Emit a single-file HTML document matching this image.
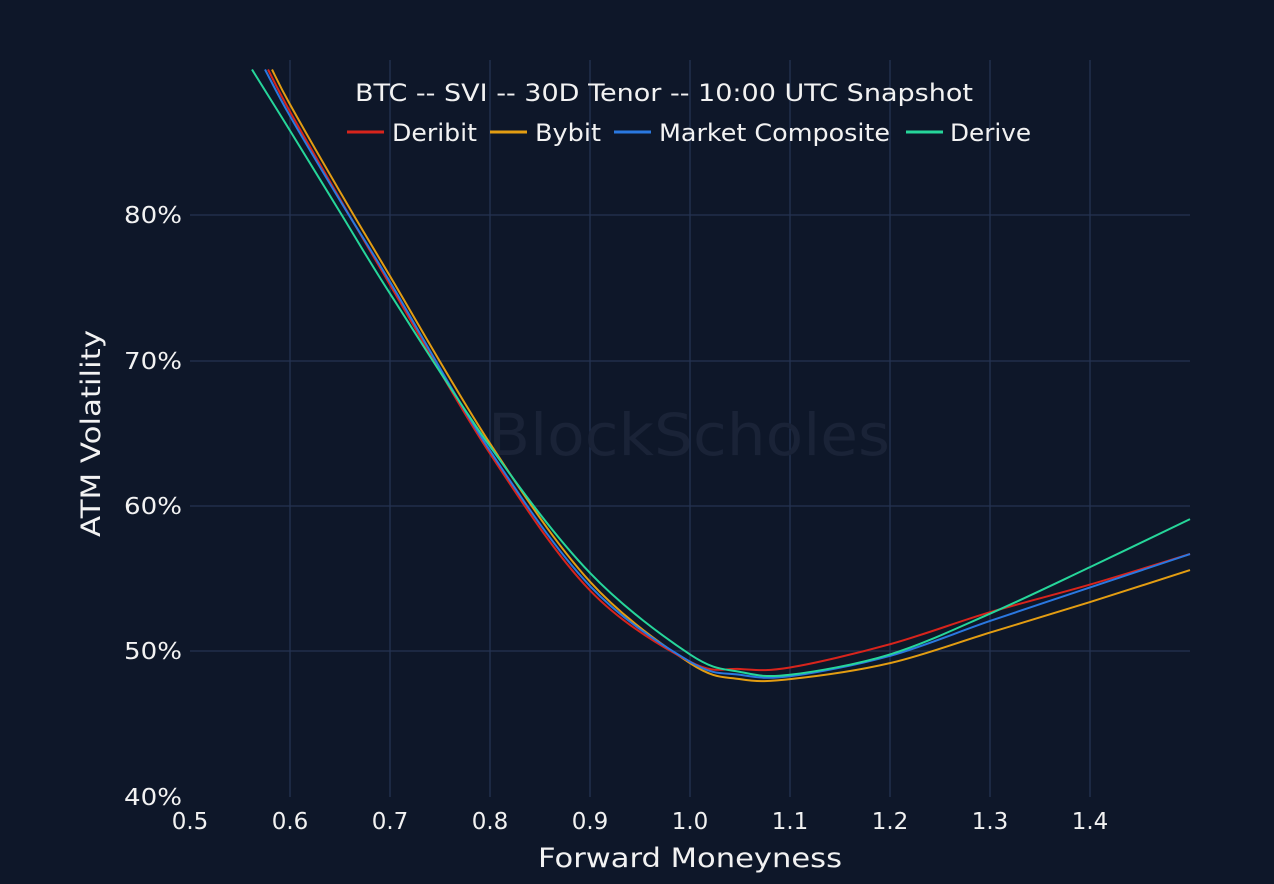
<!DOCTYPE html>
<html><head><meta charset="utf-8"><style>
html,body{margin:0;padding:0;background:#0e1729;}
svg{display:block}
text{font-family:"DejaVu Sans","Liberation Sans",sans-serif;fill:#f2f2f2}
</style></head><body>
<svg id="s" width="1274" height="884" viewBox="0 0 1274 884">
<rect width="1274" height="884" fill="#0e1729"/>
<g stroke="#243352" stroke-width="1.3">
<line x1="290" y1="60" x2="290" y2="797"/><line x1="390" y1="60" x2="390" y2="797"/>
<line x1="490" y1="60" x2="490" y2="797"/><line x1="590" y1="60" x2="590" y2="797"/>
<line x1="690" y1="60" x2="690" y2="797"/><line x1="790" y1="60" x2="790" y2="797"/>
<line x1="890" y1="60" x2="890" y2="797"/><line x1="990" y1="60" x2="990" y2="797"/>
<line x1="1090" y1="60" x2="1090" y2="797"/>
<line x1="190" y1="215" x2="1190" y2="215"/><line x1="190" y1="361" x2="1190" y2="361"/>
<line x1="190" y1="506" x2="1190" y2="506"/><line x1="190" y1="651" x2="1190" y2="651"/>
</g>
<text x="488" y="455" font-size="58" textLength="402" lengthAdjust="spacingAndGlyphs" style="fill:#1a2337">BlockScholes</text>
<g id="curves" fill="none" stroke-width="2"></g>
<g font-size="23" text-anchor="end">
<text x="182" y="223" textLength="58" lengthAdjust="spacingAndGlyphs">80%</text><text x="182" y="369" textLength="58" lengthAdjust="spacingAndGlyphs">70%</text>
<text x="182" y="514" textLength="58" lengthAdjust="spacingAndGlyphs">60%</text><text x="182" y="659" textLength="58" lengthAdjust="spacingAndGlyphs">50%</text><text x="182" y="805" textLength="58" lengthAdjust="spacingAndGlyphs">40%</text>
</g>
<g font-size="23" text-anchor="middle">
<text x="190" y="829">0.5</text><text x="290" y="829">0.6</text><text x="390" y="829">0.7</text>
<text x="490" y="829">0.8</text><text x="590" y="829">0.9</text><text x="690" y="829">1.0</text>
<text x="790" y="829">1.1</text><text x="890" y="829">1.2</text><text x="990" y="829">1.3</text>
<text x="1090" y="829">1.4</text>
</g>
<text x="538" y="867" font-size="27" textLength="304" lengthAdjust="spacingAndGlyphs">Forward Moneyness</text>
<text transform="translate(100,537) rotate(-90)" font-size="27" textLength="207" lengthAdjust="spacingAndGlyphs">ATM Volatility</text>
<text x="355" y="101" font-size="24" textLength="618" lengthAdjust="spacingAndGlyphs">BTC -- SVI -- 30D Tenor -- 10:00 UTC Snapshot</text>
<g font-size="24">
<line x1="347" y1="132" x2="384" y2="132" stroke="#d8241c" stroke-width="3"/><text x="392" y="141" textLength="85" lengthAdjust="spacingAndGlyphs">Deribit</text>
<line x1="490" y1="132" x2="527" y2="132" stroke="#e39d12" stroke-width="3"/><text x="535" y="141" textLength="66" lengthAdjust="spacingAndGlyphs">Bybit</text>
<line x1="614" y1="132" x2="651" y2="132" stroke="#2a78e0" stroke-width="3"/><text x="659" y="141" textLength="231" lengthAdjust="spacingAndGlyphs">Market Composite</text>
<line x1="906" y1="132" x2="943" y2="132" stroke="#26d69a" stroke-width="3"/><text x="950" y="141" textLength="81" lengthAdjust="spacingAndGlyphs">Derive</text>
</g>
</svg>
<script>
function X(m){return 190+(m-0.5)*1000}
function Y(v){return 797-(v-40)*14.55}
var series=[
 ["#e39d12",[[0.582,90],[0.6,87.6],[0.65,81.6],[0.7,75.8],[0.8,64.3],[0.9,54.8],[1.0,49.2],[1.05,48.1],[1.1,48.1],[1.2,49.2],[1.3,51.3],[1.4,53.4],[1.5,55.6]]],
 ["#d8241c",[[0.578,90],[0.6,87.1],[0.65,81.1],[0.7,75.2],[0.8,63.6],[0.9,54.2],[1.0,49.3],[1.05,48.8],[1.1,48.9],[1.2,50.5],[1.3,52.7],[1.4,54.6],[1.5,56.7]]],
 ["#2a78e0",[[0.575,90],[0.6,86.8],[0.65,81.0],[0.7,75.4],[0.8,63.8],[0.9,54.5],[1.0,49.3],[1.05,48.4],[1.1,48.3],[1.2,49.7],[1.3,52.1],[1.4,54.4],[1.5,56.7]]],
 ["#26d69a",[[0.562,90],[0.6,85.8],[0.65,80.2],[0.7,74.6],[0.8,64.1],[0.9,55.4],[1.0,49.8],[1.05,48.6],[1.1,48.4],[1.2,49.8],[1.3,52.6],[1.4,55.8],[1.5,59.1]]]
];
var g=document.getElementById('curves');
series.forEach(function(s){
 var p=s[1].map(function(q){return [X(q[0]),Y(q[1])]});
 var d="M"+p[0][0]+","+p[0][1];
 for(var i=0;i<p.length-1;i++){
  var p0=p[i-1]||p[i],p1=p[i],p2=p[i+1],p3=p[i+2]||p2;
  var c1=[p1[0]+(p2[0]-p0[0])/6,p1[1]+(p2[1]-p0[1])/6];
  var c2=[p2[0]-(p3[0]-p1[0])/6,p2[1]-(p3[1]-p1[1])/6];
  d+=" C"+c1+" "+c2+" "+p2;
 }
 var e=document.createElementNS("http://www.w3.org/2000/svg","path");
 e.setAttribute("d",d);e.setAttribute("stroke",s[0]);g.appendChild(e);
});
</script>
</body></html>
